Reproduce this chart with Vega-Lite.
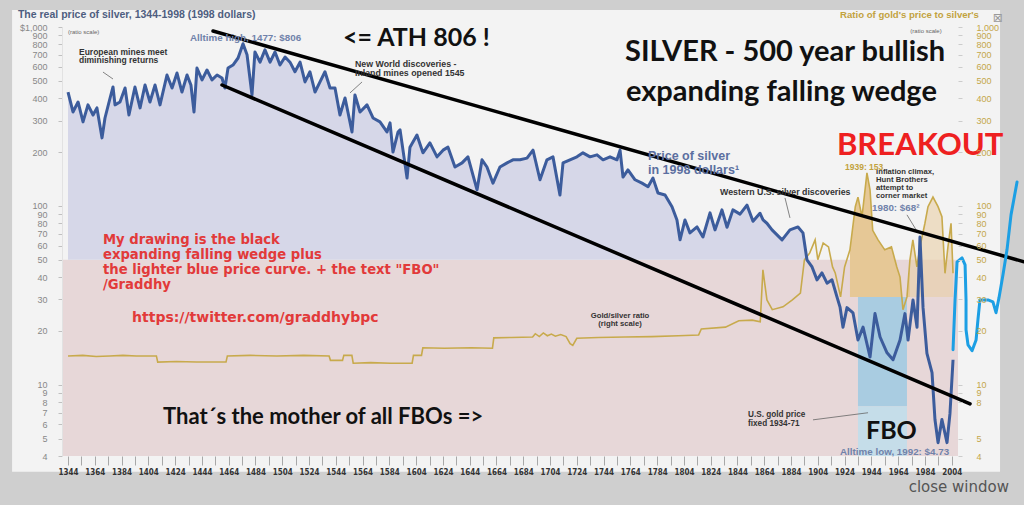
{
"$schema": "https://vega.github.io/schema/vega-lite/v6.json",
"width": 962, "height": 429,
"autosize": {"type": "none"},
"padding": {"left": 62, "top": 27, "right": 0, "bottom": 49},
"background": "#cfcfcf",
"config": {"view": {"stroke": null}, "font": "Liberation Sans"},
"datasets": {
"silver": [
{"year":1344,"value":433},{"year":1347.7,"value":335},{"year":1351.5,"value":381},{"year":1355.2,"value":295},{"year":1358.9,"value":367},{"year":1362.7,"value":322},{"year":1365.6,"value":353},{"year":1369.4,"value":240},{"year":1371.6,"value":310},{"year":1375.4,"value":401},{"year":1377.6,"value":462},{"year":1379.1,"value":367},{"year":1382.8,"value":381},{"year":1386.6,"value":456},{"year":1389.5,"value":322},{"year":1394,"value":462},{"year":1397.8,"value":353},{"year":1401.5,"value":474},{"year":1405.2,"value":381},{"year":1409,"value":474},{"year":1412.7,"value":367},{"year":1417.9,"value":539},{"year":1421.7,"value":456},{"year":1425.4,"value":553},{"year":1429.1,"value":433},{"year":1432.9,"value":539},{"year":1435.8,"value":474},{"year":1438.1,"value":335},{"year":1440.3,"value":590},{"year":1444.1,"value":506},{"year":1447.8,"value":575},{"year":1451.5,"value":506},{"year":1455.3,"value":539},{"year":1459,"value":519},{"year":1461.2,"value":456},{"year":1463.5,"value":590},{"year":1467.2,"value":613},{"year":1471,"value":671},{"year":1474.7,"value":806},{"year":1477.7,"value":700},{"year":1481.4,"value":417},{"year":1483.6,"value":725},{"year":1487.4,"value":636},{"year":1491.1,"value":745},{"year":1494.9,"value":636},{"year":1498.6,"value":725},{"year":1502.3,"value":613},{"year":1506.1,"value":680},{"year":1509.8,"value":636},{"year":1513.5,"value":562},{"year":1517.3,"value":636},{"year":1521,"value":493},{"year":1524.7,"value":562},{"year":1528.5,"value":433},{"year":1532.2,"value":493},{"year":1535.9,"value":562},{"year":1539.7,"value":456},{"year":1543.4,"value":456},{"year":1547.1,"value":322},{"year":1550.9,"value":401},{"year":1556.1,"value":259},{"year":1558.3,"value":417},{"year":1562.1,"value":335},{"year":1567.3,"value":367},{"year":1571.8,"value":310},{"year":1577,"value":295},{"year":1582.2,"value":259},{"year":1584.5,"value":291},{"year":1586.7,"value":200},{"year":1590.5,"value":259},{"year":1592,"value":266},{"year":1597.2,"value":143},{"year":1599.4,"value":213},{"year":1604.6,"value":249},{"year":1609.1,"value":198},{"year":1614.3,"value":225},{"year":1619.6,"value":188},{"year":1624.1,"value":205},{"year":1627.8,"value":213},{"year":1633,"value":165},{"year":1638.3,"value":174},{"year":1642.7,"value":188},{"year":1649.5,"value":123},{"year":1653.2,"value":181},{"year":1656.9,"value":165},{"year":1661.4,"value":134},{"year":1666.6,"value":165},{"year":1671.9,"value":174},{"year":1676.3,"value":181},{"year":1681.6,"value":181},{"year":1686.8,"value":185},{"year":1691.3,"value":205},{"year":1696.5,"value":140},{"year":1701.7,"value":181},{"year":1706.2,"value":188},{"year":1711.4,"value":115},{"year":1713.7,"value":174},{"year":1718.9,"value":181},{"year":1724.1,"value":188},{"year":1728.6,"value":198},{"year":1733.9,"value":188},{"year":1739.1,"value":193},{"year":1743.6,"value":181},{"year":1748.8,"value":188},{"year":1754,"value":181},{"year":1756.3,"value":205},{"year":1758.5,"value":145},{"year":1762.2,"value":159},{"year":1767.5,"value":140},{"year":1772.7,"value":134},{"year":1777.2,"value":128},{"year":1780.9,"value":143},{"year":1784.6,"value":118},{"year":1789.9,"value":115},{"year":1795.1,"value":99},{"year":1798.8,"value":83.5},{"year":1801.1,"value":64.6},{"year":1804.8,"value":83.5},{"year":1808.5,"value":70.7},{"year":1813.8,"value":76.3},{"year":1818.2,"value":67},{"year":1823.5,"value":91.4},{"year":1827.2,"value":73.4},{"year":1832.4,"value":95},{"year":1836.2,"value":76},{"year":1840.6,"value":95},{"year":1845.9,"value":90},{"year":1851.1,"value":101},{"year":1855.6,"value":82},{"year":1860.8,"value":91},{"year":1863.1,"value":83.5},{"year":1866,"value":80},{"year":1869.8,"value":73.4},{"year":1877.3,"value":64.6},{"year":1883.2,"value":73.4},{"year":1889.2,"value":76.3},{"year":1892.9,"value":70.7},{"year":1895.9,"value":50},{"year":1899.7,"value":45.6},{"year":1903.4,"value":38.6},{"year":1907.1,"value":42.2},{"year":1910.9,"value":37},{"year":1914.6,"value":38.6},{"year":1918.3,"value":31},{"year":1920.6,"value":27.2},{"year":1922.8,"value":21},{"year":1925.8,"value":27},{"year":1930.3,"value":25.2},{"year":1934,"value":17.8},{"year":1937.8,"value":21},{"year":1943,"value":14.3},{"year":1946.7,"value":25},{"year":1950.5,"value":18.5},{"year":1955.7,"value":15.1},{"year":1960.2,"value":13.8},{"year":1965.4,"value":17.8},{"year":1969.1,"value":25},{"year":1971.4,"value":17.8},{"year":1975.1,"value":29.8},{"year":1978.1,"value":21},{"year":1980.3,"value":67},{"year":1982.6,"value":27},{"year":1985.5,"value":15},{"year":1989.3,"value":11.7},{"year":1991.5,"value":6.4},{"year":1993.8,"value":4.75},{"year":1996.7,"value":6.4},{"year":2000.5,"value":4.75},{"year":2002.7,"value":6.9},{"year":2005,"value":13.8}
],
"ratio": [
{"year":1344,"value":14.5},{"year":1355,"value":14.6},{"year":1365,"value":14.4},{"year":1375,"value":14.5},{"year":1385,"value":14.6},{"year":1395,"value":14.5},{"year":1410,"value":14.5},{"year":1411,"value":13.4},{"year":1425,"value":13.5},{"year":1440,"value":13.4},{"year":1462,"value":13.4},{"year":1463,"value":14.5},{"year":1480,"value":14.6},{"year":1500,"value":14.5},{"year":1520,"value":14.6},{"year":1539,"value":14.5},{"year":1540,"value":13.7},{"year":1549,"value":13.7},{"year":1550,"value":14.6},{"year":1556,"value":14.6},{"year":1557,"value":13.2},{"year":1570,"value":13.3},{"year":1585,"value":13.2},{"year":1601,"value":13.2},{"year":1602,"value":14.6},{"year":1608,"value":14.6},{"year":1609,"value":16.1},{"year":1625,"value":16.0},{"year":1645,"value":16.1},{"year":1661,"value":16.0},{"year":1662,"value":18.3},{"year":1675,"value":18.4},{"year":1691,"value":18.5},{"year":1693,"value":19.3},{"year":1696,"value":18.6},{"year":1699,"value":19.5},{"year":1702,"value":18.8},{"year":1705,"value":19.2},{"year":1708,"value":18.7},{"year":1712,"value":19.1},{"year":1716,"value":18.6},{"year":1719,"value":17.0},{"year":1721,"value":16.6},{"year":1724,"value":18.2},{"year":1740,"value":18.4},{"year":1760,"value":18.5},{"year":1780,"value":18.6},{"year":1800,"value":18.8},{"year":1815,"value":19.0},{"year":1817,"value":20.5},{"year":1835,"value":21.0},{"year":1845,"value":22.8},{"year":1855,"value":23.0},{"year":1861,"value":22.5},{"year":1863,"value":43.9},{"year":1866,"value":29.8},{"year":1870,"value":26.3},{"year":1878,"value":27.3},{"year":1885,"value":29.8},{"year":1891,"value":32.6},{"year":1894,"value":50},{"year":1898,"value":54.6},{"year":1902,"value":64.6},{"year":1904,"value":50},{"year":1908,"value":62},{"year":1912,"value":59},{"year":1915,"value":45.6},{"year":1917,"value":42.2},{"year":1921,"value":31},{"year":1924,"value":45.6},{"year":1928,"value":56.8},{"year":1932,"value":99},{"year":1934,"value":112},{"year":1937,"value":87},{"year":1940.7,"value":153},{"year":1943,"value":123},{"year":1945,"value":73},{"year":1949,"value":64.6},{"year":1954,"value":56.8},{"year":1959,"value":59},{"year":1963,"value":45.6},{"year":1965.4,"value":40},{"year":1967.6,"value":26.3},{"year":1970.6,"value":31},{"year":1972.8,"value":50},{"year":1975,"value":64.6},{"year":1978,"value":45.6},{"year":1980.3,"value":59},{"year":1984,"value":80},{"year":1986.3,"value":99},{"year":1990,"value":112},{"year":1993.8,"value":99},{"year":1996.7,"value":87},{"year":1999,"value":42},{"year":2001.2,"value":59},{"year":2003.5,"value":80},{"year":2005,"value":42}
],
"hand": [
{"i":1,"year":2005.0,"value":15.7},{"i":2,"year":2006.5,"value":29.8},{"i":3,"year":2008.0,"value":48.7},{"i":4,"year":2011.7,"value":51.2},{"i":5,"year":2014.0,"value":46.8},{"i":6,"year":2014.7,"value":29.8},{"i":7,"year":2014.7,"value":20.3},{"i":8,"year":2016.2,"value":16.7},{"i":9,"year":2019.2,"value":15.5},{"i":10,"year":2022.2,"value":17.8},{"i":11,"year":2023.6,"value":23.1},{"i":12,"year":2025.1,"value":29.8},{"i":13,"year":2031.1,"value":29.8},{"i":14,"year":2034.8,"value":29.1},{"i":15,"year":2037.1,"value":25.3},{"i":16,"year":2039.3,"value":30.6},{"i":17,"year":2042.3,"value":41.2},{"i":18,"year":2045.3,"value":56.8},{"i":19,"year":2048.3,"value":89.1},{"i":20,"year":2052.8,"value":136}
]
},
"encoding": {
"x": {"field": "year", "type": "quantitative", "scale": {"domain": [1339.5, 2058], "nice": false, "zero": false},
 "axis": {"title": null, "zindex": 1, "orient": "bottom", "values": [1344,1354,1364,1374,1384,1394,1404,1414,1424,1434,1444,1454,1464,1474,1484,1494,1504,1514,1524,1534,1544,1554,1564,1574,1584,1594,1604,1614,1624,1634,1644,1654,1664,1674,1684,1694,1704,1714,1724,1734,1744,1754,1764,1774,1784,1794,1804,1814,1824,1834,1844,1854,1864,1874,1884,1894,1904,1914,1924,1934,1944,1954,1964,1974,1984,1994,2004], "labelExpr": "(datum.value - 1344) % 20 == 0 ? '' + datum.value : ''", "tickSize": 9, "tickColor": "#a8a8a8", "labelFont": "DejaVu Sans Condensed", "labelFontWeight": "bold", "labelFontSize": 8, "labelColor": "#333333", "labelPadding": 3, "domain": false, "grid": false, "labelOverlap": false, "labelFlush": false}},
"y": {"field": "value", "type": "quantitative", "scale": {"type": "log", "domain": [4, 1000], "nice": false}, "axis": null}
},
"layer": [
{"data": {"values": [{"year": 1302.2, "year2": 2040.1, "value": 3.27, "value2": 1245}]},
 "mark": {"type": "rect", "color": "#f3f3f3"},
 "encoding": {"x2": {"field": "year2"}, "y2": {"field": "value2"}}},
{"data": {"values": [{"year": 1339.5, "year2": 2008.7, "value": 4, "value2": 50}]},
 "mark": {"type": "rect", "color": "#e7d7d8"},
 "encoding": {"x2": {"field": "year2"}, "y2": {"field": "value2"}}},
{"data": {"name": "silver"}, "transform": [{"filter": "datum.year <= 1896"}],
 "mark": {"type": "area", "color": "#d6d7e8"},
 "encoding": {"y2": {"datum": 50}}},
{"data": {"name": "ratio"}, "transform": [{"filter": "datum.year >= 1928 && datum.year <= 1972.8"}],
 "mark": {"type": "area", "color": "#e6c896"},
 "encoding": {"y2": {"datum": 31}}},
{"data": {"name": "ratio"}, "transform": [{"filter": "datum.year >= 1972.8"}],
 "mark": {"type": "area", "color": "#e9cfa6", "opacity": 0.6},
 "encoding": {"y2": {"datum": 31}}},
{"data": {"values": [{"year": 1934.0, "year2": 1970.6, "value": 7.6, "value2": 31}]},
 "mark": {"type": "rect", "color": "#a9cce1"},
 "encoding": {"x2": {"field": "year2"}, "y2": {"field": "value2"}}},
{"data": {"values": [{"year": 1934.0, "year2": 1970.6, "value": 4, "value2": 7.6}]},
 "mark": {"type": "rect", "color": "#c5dde9"},
 "encoding": {"x2": {"field": "year2"}, "y2": {"field": "value2"}}},
{"data": {"name": "ratio"},
 "mark": {"type": "line", "color": "#c8aa4c", "strokeWidth": 1.6},
 "encoding": {
  "y": {"field": "value", "type": "quantitative", "scale": {"type": "log", "domain": [4, 1000], "nice": false},
   "axis": {"orient": "right", "offset": -66, "zindex": 1, "title": null, "values": [4,5,8,9,10,20,30,40,50,60,70,80,90,100,200,300,400,500,600,700,800,900,1000], "labelExpr": "datum.value == 1000 ? '1,000' : datum.label", "format": "d", "tickSize": 4, "tickColor": "#cccccc", "labelColor": "#c4a64a", "labelFontSize": 9, "labelPadding": 14, "domain": false, "grid": false, "labelOverlap": false}}
 }},
{"data": {"name": "silver"},
 "mark": {"type": "line", "color": "#3c5c9c", "strokeWidth": 3, "strokeJoin": "round"},
 "encoding": {
  "y": {"field": "value", "type": "quantitative", "scale": {"type": "log", "domain": [4, 1000], "nice": false},
   "axis": {"orient": "left", "zindex": 1, "title": null, "values": [4,5,6,7,8,9,10,20,30,40,50,60,70,80,90,100,200,300,400,500,600,700,800,900,1000], "labelExpr": "datum.value == 1000 ? '$1,000' : datum.label", "format": "d", "tickSize": 4, "tickColor": "#c0c0c0", "labelColor": "#888888", "labelFontSize": 9, "labelPadding": 11, "domain": true, "domainColor": "#e2e2e2", "grid": false, "labelOverlap": false}}
 }},
{"data": {"values": [
  {"year": 1370.1, "value": 560, "year2": 1377.6, "value2": 512},
  {"year": 1563.6, "value": 493, "year2": 1554.6, "value2": 428},
  {"year": 1879.5, "value": 110.8, "year2": 1883.2, "value2": 85.7},
  {"year": 1970.6, "value": 89.1, "year2": 1978.8, "value2": 70.7},
  {"year": 1900.4, "value": 6.37, "year2": 1941.5, "value2": 6.98}]},
 "mark": {"type": "rule", "color": "#666666", "strokeWidth": 0.8},
 "encoding": {"x2": {"field": "year2"}, "y2": {"field": "value2"}}},
{"data": {"values": [
  {"year": 1452.3, "value": 950, "year2": 2058, "value2": 48.7},
  {"year": 1459.0, "value": 474, "year2": 2017.7, "value2": 7.83}]},
 "mark": {"type": "rule", "color": "#000000", "strokeWidth": 3.5, "strokeCap": "round"},
 "encoding": {"x2": {"field": "year2"}, "y2": {"field": "value2"}}},
{"data": {"name": "hand"},
 "mark": {"type": "line", "color": "#1c9fe4", "strokeWidth": 3, "strokeJoin": "round", "strokeCap": "round"},
 "encoding": {"order": {"field": "i", "type": "quantitative"}}},
{"data": {"values": [
  {"year": 1352.2, "value": 725, "t": "European mines meet"},
  {"year": 1352.2, "value": 654, "t": "diminishing returns"}]},
 "mark": {"type": "text", "align": "left", "baseline": "middle", "fontSize": 8.5, "fontWeight": "bold", "color": "#333333"},
 "encoding": {"text": {"field": "t"}}},
{"data": {"values": [
  {"year": 1558.3, "value": 621, "t": "New World discoveries -"},
  {"year": 1558.3, "value": 553, "t": "Inland mines opened 1545"},
  {"year": 1831.0, "value": 120, "t": "Western U.S. silver discoveries"}]},
 "mark": {"type": "text", "align": "left", "baseline": "middle", "fontSize": 8.8, "fontWeight": "bold", "color": "#333333"},
 "encoding": {"text": {"field": "t"}}},
{"data": {"values": [
  {"year": 1851.9, "value": 6.75, "t": "U.S. gold price"},
  {"year": 1851.9, "value": 6.0, "t": "fixed 1934-71"}]},
 "mark": {"type": "text", "align": "left", "baseline": "middle", "fontSize": 8.2, "fontWeight": "bold", "color": "#333333"},
 "encoding": {"text": {"field": "t"}}},
{"data": {"values": [
  {"year": 1947.5, "value": 155, "t": "Inflation climax,"},
  {"year": 1947.5, "value": 140, "t": "Hunt Brothers"},
  {"year": 1947.5, "value": 126, "t": "attempt to"},
  {"year": 1947.5, "value": 114, "t": "corner market"}]},
 "mark": {"type": "text", "align": "left", "baseline": "middle", "fontSize": 7.7, "fontWeight": "bold", "color": "#333333"},
 "encoding": {"text": {"field": "t"}}},
{"data": {"values": [
  {"year": 1756.3, "value": 24.3, "t": "Gold/silver ratio"},
  {"year": 1756.3, "value": 21.9, "t": "(right scale)"}]},
 "mark": {"type": "text", "align": "center", "baseline": "middle", "fontSize": 7.7, "fontWeight": "bold", "color": "#333333"},
 "encoding": {"text": {"field": "t"}}},
{"data": {"values": [
  {"year": 1435.1, "value": 868, "t": "Alltime high, 1477: $806"},
  {"year": 1944.5, "value": 97.5, "t": "1980: $68²"},
  {"year": 1920.6, "value": 4.22, "t": "Alltime low, 1992: $4.73"}]},
 "mark": {"type": "text", "align": "left", "baseline": "middle", "fontSize": 9.8, "fontWeight": "bold", "color": "#7082aa"},
 "encoding": {"text": {"field": "t"}}},
{"data": {"values": [
  {"year": 1777.2, "value": 189, "t": "Price of silver"},
  {"year": 1777.2, "value": 158, "t": "in 1998 dollars¹"}]},
 "mark": {"type": "text", "align": "left", "baseline": "middle", "fontSize": 12.5, "fontWeight": "bold", "color": "#5b6fa0"},
 "encoding": {"text": {"field": "t"}}},
{"data": {"values": [
  {"year": 1920.6, "value": 1167, "t": "Ratio of gold's price to silver's"}]},
 "mark": {"type": "text", "align": "left", "baseline": "middle", "fontSize": 9.6, "fontWeight": "bold", "color": "#c2a23e"},
 "encoding": {"text": {"field": "t"}}},
{"data": {"values": [
  {"year": 1924.3, "value": 165, "t": "1939: 153"}]},
 "mark": {"type": "text", "align": "left", "baseline": "middle", "fontSize": 8.5, "fontWeight": "bold", "color": "#c2a23e"},
 "encoding": {"text": {"field": "t"}}},
{"data": {"values": [{"year": 1306.6, "value": 1167, "t": "The real price of silver, 1344-1998 (1998 dollars)"}]},
 "mark": {"type": "text", "align": "left", "baseline": "middle", "fontSize": 10.5, "fontWeight": "bold", "color": "#4e5e80"},
 "encoding": {"text": {"field": "t"}}},
{"data": {"values": [{"year": 1344.0, "value": 938, "t": "(ratio scale)"}]},
 "mark": {"type": "text", "align": "left", "baseline": "middle", "fontSize": 6, "color": "#666666"},
 "encoding": {"text": {"field": "t"}}},
{"data": {"values": [{"year": 1996.5, "value": 950, "t": "(ratio scale)"}]},
 "mark": {"type": "text", "align": "right", "baseline": "middle", "fontSize": 6, "color": "#666666"},
 "encoding": {"text": {"field": "t"}}},
{"data": {"values": [
  {"year": 1549.4, "value": 868, "t": "<= ATH 806 !"},
  {"year": 1940.0, "value": 5.53, "t": "FBO"}]},
 "mark": {"type": "text", "align": "left", "baseline": "middle", "font": "Lato", "fontSize": 25, "fontWeight": "bold", "color": "#111111"},
 "encoding": {"text": {"field": "t"}}},
{"data": {"values": [
  {"year": 1760.0, "value": 725, "t": "SILVER - 500 year bullish"},
  {"year": 1760.7, "value": 433, "t": "expanding falling wedge"}]},
 "mark": {"type": "text", "align": "left", "baseline": "middle", "font": "Lato", "fontSize": 29, "fontWeight": "bold", "color": "#111111"},
 "encoding": {"text": {"field": "t"}}},
{"data": {"values": [{"year": 1415.0, "value": 6.63, "t": "That´s the mother of all FBOs =>"}]},
 "mark": {"type": "text", "align": "left", "baseline": "middle", "font": "Lato", "fontSize": 22, "fontWeight": "bold", "color": "#111111"},
 "encoding": {"text": {"field": "t"}}},
{"data": {"values": [{"year": 1918.3, "value": 216, "t": "BREAKOUT"}]},
 "mark": {"type": "text", "align": "left", "baseline": "middle", "font": "Lato", "fontSize": 31, "fontWeight": "bold", "color": "#ee2020"},
 "encoding": {"text": {"field": "t"}}},
{"data": {"values": [
  {"year": 1370.1, "value": 64.6, "t": "My drawing is the black"},
  {"year": 1370.1, "value": 53.2, "t": "expanding falling wedge plus"},
  {"year": 1370.1, "value": 43.9, "t": "the lighter blue price curve.  + the text \"FBO\""},
  {"year": 1370.1, "value": 36.2, "t": "/Graddhy"}]},
 "mark": {"type": "text", "align": "left", "baseline": "middle", "font": "DejaVu Sans", "fontSize": 13.2, "fontWeight": "bold", "color": "#e23a3a"},
 "encoding": {"text": {"field": "t"}}},
{"data": {"values": [{"year": 1391.8, "value": 23.7, "t": "https://twitter.com/graddhybpc"}]},
 "mark": {"type": "text", "align": "left", "baseline": "middle", "font": "DejaVu Sans", "fontSize": 14, "fontWeight": "bold", "color": "#e23a3a"},
 "encoding": {"text": {"field": "t"}}},
{"data": {"values": [{"year": 2046.8, "value": 2.69, "t": "close window"}]},
 "mark": {"type": "text", "align": "right", "baseline": "middle", "font": "DejaVu Sans", "fontSize": 15, "color": "#555555"},
 "encoding": {"text": {"field": "t"}}},
{"data": {"values": [{"year": 2038.5, "value": 1120, "t": "⊠"}]},
 "mark": {"type": "text", "align": "center", "baseline": "middle", "font": "DejaVu Sans", "fontSize": 12, "color": "#9a9a9a"},
 "encoding": {"text": {"field": "t"}}}
],
"resolve": {"axis": {"y": "independent"}}
}
